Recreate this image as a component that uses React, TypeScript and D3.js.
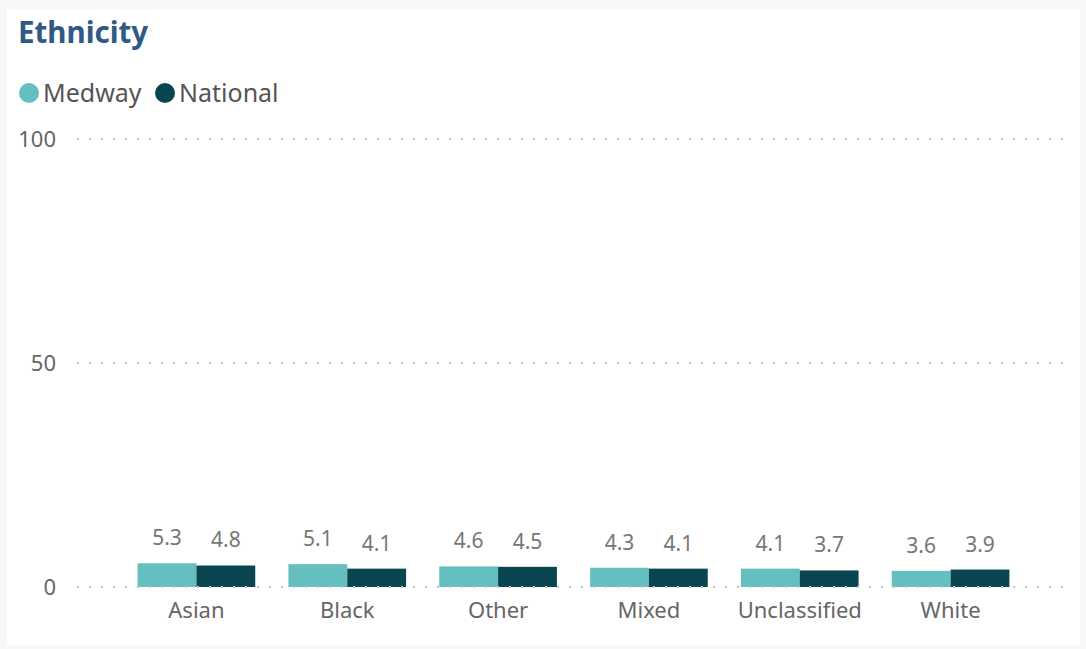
import React from "react";
import * as d3 from "d3";

const categories = ["Asian", "Black", "Other", "Mixed", "Unclassified", "White"];
const medway = [5.3, 5.1, 4.6, 4.3, 4.1, 3.6];
const national = [4.8, 4.1, 4.5, 4.1, 3.7, 3.9];
const seriesNames = ["Medway", "National"];
const yTicks = [0, 50, 100];

const W = 1086;
const H = 649;
const FONT = "'Segoe UI', 'Noto Sans', 'Open Sans', sans-serif";
const colors = ["#66bfbf", "#0a4650"];

export default function App() {
  const x = d3.scaleBand<string>().domain(categories).range([121, 1026]).paddingInner(0.22).paddingOuter(0.11);
  const x1 = d3.scaleBand<string>().domain(seriesNames).range([0, x.bandwidth()]);
  const y = d3.scaleLinear().domain([0, 100]).range([587, 139]);
  const series = [medway, national];

  return (
    <div style={{ position: "absolute", left: 0, top: 0, width: W, height: H }}>
      <svg width={W} height={H} style={{ display: "block" }}>
        <rect x={0} y={0} width={W} height={H} fill="#f7f7f7" />
        <rect x={7} y={9} width={1073} height={636} fill="#ffffff" />
        <text x={18} y={43} fontFamily={FONT} fontWeight={700} fontSize={29.5} fill="#2f5a85">Ethnicity</text>
        {seriesNames.map((s, i) => {
          const lx = i === 0 ? 29 : 165;
          return (
            <g key={s}>
              <circle cx={lx} cy={93} r={10} fill={colors[i]} />
              <text x={lx + 14} y={102} fontFamily={FONT} fontSize={25} fill="#555">{s}</text>
            </g>
          );
        })}
        {categories.map((c, ci) => (
          <g key={c} transform={`translate(${x(c)},0)`}>
            {series.map((vals, si) => {
              const v = vals[ci];
              const bx = x1(seriesNames[si])!;
              return (
                <g key={si}>
                  <rect x={bx} y={y(v)} width={x1.bandwidth()} height={y(0) - y(v)} fill={colors[si]} />
                  <text x={bx + x1.bandwidth() / 2} y={y(v) - 18} textAnchor="middle" fontFamily={FONT} fontSize={21} fill="#777">{v.toFixed(1)}</text>
                </g>
              );
            })}
            <text x={x.bandwidth() / 2} y={618} textAnchor="middle" fontFamily={FONT} fontSize={22} fill="#666">{c}</text>
          </g>
        ))}
        {yTicks.map((t) => (
          <g key={t}>
            <line x1={77} x2={1064} y1={y(t)} y2={y(t)} stroke="#c4c4c4" strokeWidth={2} strokeDasharray="2 10" />
            <text x={56} y={y(t) + 8} textAnchor="end" fontFamily={FONT} fontSize={22} fill="#666">{t}</text>
          </g>
        ))}
      </svg>
    </div>
  );
}
